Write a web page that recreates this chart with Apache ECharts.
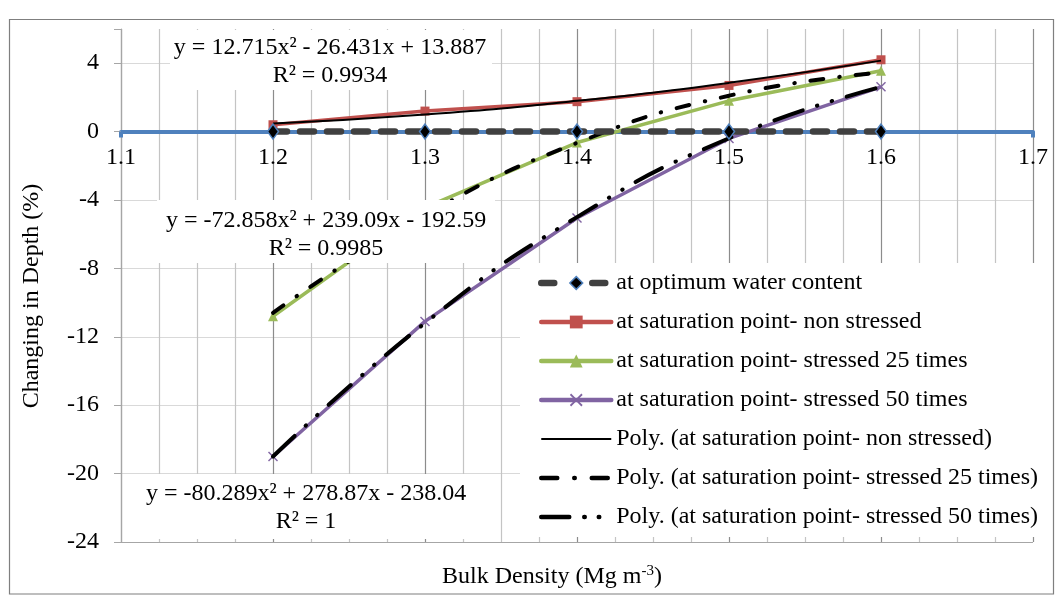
<!DOCTYPE html>
<html><head><meta charset="utf-8">
<script src="https://cdn.jsdelivr.net/npm/echarts@6/dist/echarts.min.js"></script>
<style>html,body{margin:0;padding:0;background:#fff}#c{width:1056px;height:595px}</style>
</head><body><div id="c"></div>
<script>
// ---- data ----
const xValues = [1.2, 1.3, 1.4, 1.5, 1.6];
const optimum = [0, 0, 0, 0, 0];
const nonStressed = [0.4, 1.2, 1.75, 2.7, 4.2];
const stressed25 = [-10.8, -4.45, -0.64, 1.8, 3.56];
const stressed50 = [-19.0, -11.1, -5.05, -0.4, 2.62];
const trendNon = [0.47, 1.0, 1.8, 2.85, 4.15];
const trend25 = [-10.6, -4.9, -0.66, 2.1, 3.45];
const trend50 = [-19.0, -11.2, -5.0, -0.39, 2.61];
const seriesNames = [
  'at optimum water content',
  'at saturation point- non stressed',
  'at saturation point- stressed 25 times',
  'at saturation point- stressed 50 times',
  'Poly. (at saturation point- non stressed)',
  'Poly. (at saturation point- stressed 25 times)',
  'Poly. (at saturation point- stressed 50 times)'
];
const eqNon = ['y = 12.715x² - 26.431x + 13.887', 'R² = 0.9934'];
const eq25 = ['y = -72.858x² + 239.09x - 192.59', 'R² = 0.9985'];
const eq50 = ['y = -80.289x² + 278.87x - 238.04', 'R² = 1'];
const xTitle = 'Bulk Density (Mg m{sup|-3})';
const yTitle = 'Changing in Depth (%)';

const FONT = 'Liberation Serif';
const pairs = ys => xValues.map((x, i) => [x, ys[i]]);
const crossPath = 'path://M0,1L1,0L5,4L9,0L10,1L6,5L10,9L9,10L5,6L1,10L0,9L4,5Z';

const GRID_TOP = 29, GRID_BOTTOM = 53, Y_MIN = -24, Y_MAX = 6;
const gridH = 595 - GRID_TOP - GRID_BOTTOM;
const zeroOffset = -(gridH * (0 - Y_MIN) / (Y_MAX - Y_MIN));

const chart = echarts.init(document.getElementById('c'), null, {renderer: 'canvas'});

function eqBox(x, y, w, h, lines, cx, ty) {
  const f = '24px "' + FONT + '"';
  return [
    {type: 'rect', z: 50, shape: {x: x, y: y, width: w, height: h}, style: {fill: '#fff'}},
    {type: 'text', z: 51, x: cx, y: ty, style: {text: lines[0], font: f, fill: '#000', textAlign: 'center', textVerticalAlign: 'middle'}},
    {type: 'text', z: 51, x: cx, y: ty + 28, style: {text: lines[1], font: f, fill: '#000', textAlign: 'center', textVerticalAlign: 'middle'}}
  ];
}

const option = {
  animation: false,
  backgroundColor: '#fff',
  textStyle: {fontFamily: FONT},
  grid: {left: 121, right: 23, top: GRID_TOP, bottom: GRID_BOTTOM, containLabel: false},
  xAxis: {
    type: 'value', min: 1.1, max: 1.7, interval: 0.1,
    position: 'bottom', offset: zeroOffset,
    axisLine: {onZero: false, lineStyle: {color: '#4F81BD', width: 4}},
    axisTick: {show: true, length: 6, lineStyle: {color: '#4F81BD', width: 4}},
    axisLabel: {fontSize: 24, color: '#000', fontFamily: FONT, margin: 14,
      formatter: v => v.toFixed(1)},
    splitLine: {show: true, lineStyle: {color: '#8C8C8C', width: 1.2}},
    minorTick: {show: false, splitNumber: 4},
    minorSplitLine: {show: true, lineStyle: {color: '#C4C4C4', width: 1.2}}
  },
  yAxis: {
    type: 'value', min: Y_MIN, max: Y_MAX, interval: 4,
    axisLine: {show: true, onZero: false, lineStyle: {color: '#A6A6A6', width: 1.2}},
    axisTick: {show: true, length: 7, lineStyle: {color: '#A6A6A6'}},
    axisLabel: {fontSize: 24, color: '#000', fontFamily: FONT, margin: 22,
      formatter: v => (v > 4.5 ? '' : String(v))},
    splitLine: {show: true, lineStyle: {color: ['#A6A6A6', '#D9D9D9', '#D9D9D9', '#D9D9D9', '#D9D9D9', '#D9D9D9', '#D9D9D9', '#D9D9D9', 'rgba(0,0,0,0)']}}
  },
  legend: {
    orient: 'vertical', left: 520, top: 263,
    backgroundColor: '#fff',
    padding: [7, 10, 7, 18],
    itemWidth: 70, itemHeight: 16, itemGap: 13,
    selectedMode: false,
    textStyle: {fontSize: 24, color: '#000', fontFamily: FONT, lineHeight: 26},
    data: [
      {name: seriesNames[0], lineStyle: {width: 6.5, type: [13, 38], cap: 'round', color: '#404040'},
        itemStyle: {color: '#000', borderColor: '#4F81BD', borderWidth: 1.5}},
      {name: seriesNames[1], lineStyle: {width: 4.5, cap: 'round'}},
      {name: seriesNames[2], lineStyle: {width: 4.5, cap: 'round'}},
      {name: seriesNames[3], lineStyle: {width: 4.5, cap: 'round'}},
      {name: seriesNames[4], lineStyle: {width: 2}, itemStyle: {opacity: 0}},
      {name: seriesNames[5], lineStyle: {width: 4.5, type: [16, 17, 0.5, 17], cap: 'round'}, itemStyle: {opacity: 0}},
      {name: seriesNames[6], lineStyle: {width: 4.5, type: [28, 15, 0.5, 14, 0.5, 30], cap: 'round'}, itemStyle: {opacity: 0}}
    ]
  },
  series: [
    {name: seriesNames[1], type: 'line', data: pairs(nonStressed), z: 3,
      lineStyle: {color: '#C0504D', width: 3.5}, itemStyle: {color: '#C0504D'},
      symbol: 'rect', symbolSize: 9},
    {name: seriesNames[2], type: 'line', data: pairs(stressed25), z: 3,
      lineStyle: {color: '#9BBB59', width: 3.5}, itemStyle: {color: '#9BBB59'},
      symbol: 'triangle', symbolSize: 10},
    {name: seriesNames[3], type: 'line', data: pairs(stressed50), z: 3,
      lineStyle: {color: '#8064A2', width: 3.5}, itemStyle: {color: '#8064A2'},
      symbol: crossPath, symbolSize: 10},
    {name: seriesNames[4], type: 'line', data: pairs(trendNon), z: 4, smooth: true,
      symbol: 'none', lineStyle: {color: '#000', width: 2}, itemStyle: {color: '#000'}},
    {name: seriesNames[5], type: 'line', data: pairs(trend25), z: 4, smooth: true,
      symbol: 'none', lineStyle: {color: '#000', width: 4, type: [13, 16, 0.5, 16], cap: 'round'}, itemStyle: {color: '#000'}},
    {name: seriesNames[6], type: 'line', data: pairs(trend50), z: 4, smooth: true,
      symbol: 'none', lineStyle: {color: '#000', width: 4, type: [30, 15, 0.5, 15, 0.5, 15], cap: 'round'}, itemStyle: {color: '#000'}},
    {name: seriesNames[0], type: 'line', data: pairs(optimum), z: 5,
      lineStyle: {color: '#404040', width: 6.5, type: [14, 13], cap: 'round'},
      itemStyle: {color: '#000', borderColor: '#4F81BD', borderWidth: 1.5},
      symbol: 'diamond', symbolSize: [11, 15]}
  ],
  graphic: [
    {type: 'rect', z: 0, silent: true, shape: {x: 9.5, y: 19.5, width: 1044, height: 574.5}, style: {fill: 'none', stroke: '#7F7F7F', lineWidth: 1.2}},
    ...eqBox(170, 30, 322, 60, eqNon, 330, 48),
    ...eqBox(157, 200, 338, 63, eq25, 326, 221),
    ...eqBox(138, 474, 339, 65, eq50, 306, 494),
    {type: 'text', z: 51, x: 552, y: 577, style: {text: xTitle, font: '24px "' + FONT + '"', fill: '#000', textAlign: 'center', textVerticalAlign: 'middle',
      rich: {sup: {fontSize: 15, verticalAlign: 'top', padding: [0, 0, 12, 0], fontFamily: FONT}}}},
    {type: 'text', z: 51, x: 32, y: 296, rotation: Math.PI / 2, style: {text: yTitle, font: '24px "' + FONT + '"', fill: '#000', textAlign: 'center', textVerticalAlign: 'middle'}}
  ]
};
chart.setOption(option);
</script></body></html>
